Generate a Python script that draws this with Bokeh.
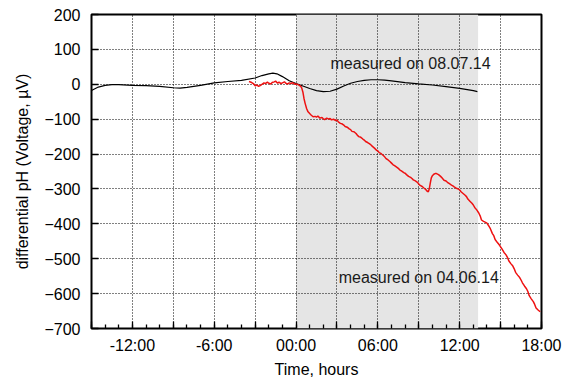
from bokeh.plotting import figure
from bokeh.models import FixedTicker, Range1d, BoxAnnotation, ColumnDataSource
from bokeh.core.properties import value
from bokeh.embed import file_html
from bokeh.resources import INLINE

# Recording from 08.07.14 (black): time in hours, signal in µV
ref_t = [-15, -14.5, -14, -13.5, -13, -12, -11, -10, -9, -8.5, -8, -7, -6, -5, -4,
         -3, -2.5, -2, -1.7, -1.4, -1, -0.5, 0, 0.5, 1, 1.5, 2, 2.5, 3, 3.5, 4,
         4.5, 5, 5.5, 6, 6.5, 7, 8, 9, 10, 11, 12, 13, 13.3]
ref_v = [-18, -8, -3, -1, -1, -3, -4, -6, -10, -11, -9, -3, 4, 8, 11,
         18, 25, 30, 32, 30, 22, 10, 2, -5, -12, -18, -21, -20, -14, -5, 3,
         8, 11, 13, 13, 12, 10, 5, 1, -2, -7, -12, -18, -21]

# Recording from 04.06.14 (red)
drift_t = [-3.45, -3.25, -3.1, -3.0, -2.85, -2.75, -2.6, -2.5, -2.35, -2.25, -2.1, -2.0,
           -1.85, -1.75, -1.6, -1.5, -1.35, -1.25, -1.1, -1.0, -0.85, -0.75, -0.6, -0.5,
           -0.35, -0.25, -0.1, 0.0, 0.15, 0.25, 0.35, 0.42, 0.5, 0.58, 0.66, 0.78, 0.88,
           1.0, 1.1, 1.25, 1.4, 1.5, 1.6, 1.75, 1.9, 2.0, 2.1, 2.25, 2.4, 2.5, 2.6, 2.75,
           2.9, 3.0, 3.1, 3.25, 3.4, 3.5, 3.6, 3.75, 3.9, 4.0, 4.1, 4.25, 4.4, 4.5,
           4.6, 4.75, 4.9, 5.0, 5.1, 5.25, 5.4, 5.5, 5.6, 5.75, 5.9, 6.0, 6.1, 6.25,
           6.4, 6.5, 6.6, 6.75, 6.9, 7.0, 7.1, 7.25, 7.4, 7.5, 7.6, 7.75, 7.9, 8.0,
           8.1, 8.25, 8.4, 8.5, 8.6, 8.75, 8.9, 9.0, 9.1, 9.25, 9.4, 9.5, 9.6, 9.7,
           9.78, 9.85, 9.92, 10.0, 10.1, 10.2, 10.3, 10.45, 10.6, 10.7, 10.85, 11.0,
           11.1, 11.25, 11.4, 11.5, 11.6, 11.75, 11.9, 12.0, 12.1, 12.25, 12.4, 12.5,
           12.6, 12.75, 12.9, 13.0, 13.1, 13.25, 13.4, 13.5, 13.6, 13.75, 13.9, 14.0,
           14.1, 14.25, 14.4, 14.5, 14.6, 14.75, 14.9, 15.0, 15.1, 15.25, 15.4, 15.5,
           15.6, 15.75, 15.9, 16.0, 16.1, 16.25, 16.4, 16.5, 16.6, 16.75, 16.9, 17.0,
           17.1, 17.25, 17.4, 17.5, 17.6, 17.75, 17.9, 18.0]
drift_v = [8, 5, 1, -4, -2, -6, -3, 0, 4, 2, 6, 3,
           1, 5, 7, 9, 3, 6, 2, 4, 7, 3, 1, 4,
           2, 5, 0, 1, -1, -3, -6, -11, -22, -40, -54, -70, -79,
           -84, -88, -93, -92, -94, -91, -97, -95, -99, -101, -97, -100, -98, -102,
           -100, -104, -102, -108, -112, -114, -117, -121, -123, -128, -130, -135, -136, -141,
           -146, -150, -152, -157, -160, -164, -167, -171, -174, -178, -183, -189, -191, -196,
           -199, -204, -208, -213, -217, -222, -226, -230, -234, -238, -241, -245, -249, -253,
           -255, -259, -264, -267, -270, -274, -277, -281, -286, -290, -293, -298, -301, -306,
           -308, -298, -282, -268, -262, -258, -256, -256, -259, -264, -268, -275,
           -277, -281, -285, -289, -291, -294, -298, -300, -303, -308, -313, -318,
           -322, -329, -335, -341, -346, -353, -360, -369, -377, -389, -393, -396,
           -398, -404, -414, -428, -434, -445, -453, -460, -466, -472, -482, -489,
           -496, -506, -514, -521, -529, -539, -547, -554, -561, -569, -578, -586,
           -594, -606, -615, -623, -631, -641, -647, -652]

x_ticks = [-15, -12, -9, -6, -3, 0, 3, 6, 9, 12, 15, 18]
x_tick_labels = ["", "-12:00", "", "-6:00", "", "00:00", "", "06:00", "", "12:00", "", "18:00"]
x_minor_ticks = list(range(-15, 19))
y_ticks = [-700, -600, -500, -400, -300, -200, -100, 0, 100, 200]

# shaded interval of the later recording
shade_start, shade_end = 0, 13.35

note_a = dict(x=[8.4], y=[60], text=["measured on 08.07.14"])
note_b = dict(x=[9.0], y=[-554], text=["measured on 04.06.14"])

FONT = "Liberation Sans"

p = figure(width=570, height=380, x_range=Range1d(-15, 18), y_range=Range1d(-700, 200),
           output_backend="svg", toolbar_location=None,
           min_border_left=91, min_border_right=29, min_border_top=14, min_border_bottom=51)
p.outline_line_color = "black"
p.outline_line_width = 2

xticker = FixedTicker(ticks=x_ticks, minor_ticks=x_minor_ticks)
yticker = FixedTicker(ticks=y_ticks)

xa = p.xaxis[0]
ya = p.yaxis[0]

# inward ticks on the frame, black text in Liberation Sans
for ax, tk in ((xa, xticker), (ya, yticker)):
    ax.ticker = tk
    ax.axis_line_color = None
    ax.major_tick_in = 7
    ax.major_tick_out = 0
    ax.minor_tick_in = 4
    ax.minor_tick_out = 0
    ax.major_tick_line_color = "black"
    ax.minor_tick_line_color = "black"
    ax.major_tick_line_width = 1.3
    ax.minor_tick_line_width = 1.3
    ax.major_label_text_font = FONT
    ax.major_label_text_font_size = "16px"
    ax.major_label_text_color = "black"
    ax.axis_label_text_font = FONT
    ax.axis_label_text_font_size = "16px"
    ax.axis_label_text_font_style = "normal"
    ax.axis_label_text_color = "black"

xa.major_label_overrides = {t: lab for t, lab in zip(x_ticks, x_tick_labels)}
xa.axis_label = "Time, hours"
xa.major_label_standoff = 8
xa.axis_label_standoff = 4

ya.axis_label = "differential pH (Voltage, µV)"
ya.major_label_standoff = 11
ya.axis_label_standoff = 10

# dotted grid at every major tick
for g in (p.xgrid[0], p.ygrid[0]):
    g.grid_line_color = "black"
    g.grid_line_dash = "1 2"
    g.grid_line_alpha = 1
p.xgrid[0].ticker = xticker
p.ygrid[0].ticker = yticker

p.add_layout(BoxAnnotation(left=shade_start, right=shade_end, fill_color="#e5e5e5",
                           fill_alpha=1, line_color=None, level="image"))

p.line(ref_t, ref_v, line_color="black", line_width=1.2)
p.line(drift_t, drift_v, line_color="#ee1111", line_width=1.5)

for note in (note_a, note_b):
    p.text(x="x", y="y", text="text", source=ColumnDataSource(note),
           text_font=value(FONT), text_font_size="16px", text_color="#1a1a1a",
           text_align="center", text_baseline="middle")

open("out.html", "w").write(file_html(p, INLINE))
